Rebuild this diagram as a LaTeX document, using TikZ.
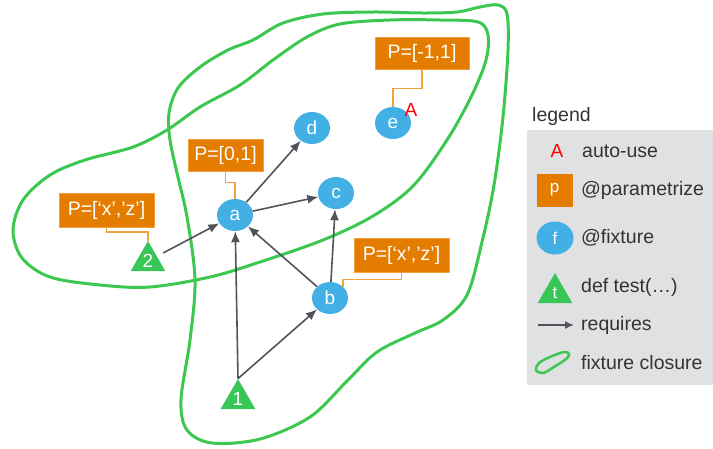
\documentclass[tikz,border=0pt]{standalone}
\usepackage{fontspec}
\setmainfont{Liberation Sans}
\usetikzlibrary{shapes.geometric,arrows.meta}
\definecolor{porange}{RGB}{228,124,0}
\definecolor{plight}{RGB}{240,160,60}
\definecolor{fblue}{RGB}{66,176,228}
\definecolor{tgreen}{RGB}{56,198,86}
\definecolor{cgreen}{RGB}{60,200,80}
\definecolor{agray}{RGB}{80,84,90}
\definecolor{lgray}{RGB}{224,225,227}
\tikzset{
  fix/.style={ellipse,fill=fblue,text=white,minimum width=36pt,minimum height=32pt,inner sep=0pt,font=\fontsize{19}{19}\selectfont},
  tst/.style={regular polygon,regular polygon sides=3,fill=tgreen,text=white,minimum size=40pt,inner sep=0pt,font=\fontsize{19}{19}\selectfont},
  par/.style={fill=porange,draw=plight,line width=0.8pt,text=white,minimum height=32pt,inner xsep=6pt,font=\fontsize{19.5}{19.5}\selectfont},
  pline/.style={draw=plight,line width=1.6pt},
  req/.style={draw=agray,line width=1.6pt,-{Latex[length=11pt,width=9pt]}},
  clos/.style={draw=cgreen,line width=3pt},
  ltext/.style={anchor=west,text=black!80,font=\fontsize{19.5}{20}\selectfont,inner sep=0pt},
  autou/.style={text=red,font=\fontsize{19}{19}\selectfont,inner sep=0pt},
}
\begin{document}
\begin{tikzpicture}[x=1pt,y=-1pt]
\useasboundingbox (0,0) rectangle (713,448);
% closures
\draw[clos] plot[smooth cycle,tension=0.55] coordinates {(13,230) (23,200) (50,175) (85,160) (133,147) (167,130) (200,107) (240,85) (273,60) (307,37) (340,24) (390,20) (440,20) (478,22) (488,35) (486,60) (472,95) (447,140) (413,186) (373,216) (323,240) (260,262) (210,277) (150,287) (100,285) (50,277) (22,258)};
\draw[clos] plot[smooth cycle,tension=0.55] coordinates {(253,40) (283,23) (323,14) (373,12) (423,13) (457,12) (480,7) (498,5) (507,14) (508,50) (503,117) (494,185) (482,242) (467,295) (443,320) (415,333) (377,352) (347,381) (310,417) (260,439) (212,443) (187,430) (181,400) (190,340) (195,280) (187,217) (177,173) (170,140) (169,113) (178,88) (200,67) (228,50)};
% fixtures
\node[fix] (a) at (235,215) {a};
\node[fix] (d) at (312,128) {d};
\node[fix] (c) at (336,193) {c};
\node[fix] (e) at (393,123) {e};
\node[fix] (b) at (330,298) {b};
\node[tst] (t1) at (238,399) {1};
\node[tst] (t2) at (148,261) {2};
% parametrize
\node[par,minimum width=75pt] (p0) at (225.5,155) {P=[0,1]};
\node[par,minimum width=94pt] (pe) at (422,53) {P=[-1,1]};
\node[par,minimum width=95pt,minimum height=34pt] (p2) at (106.5,210.5) {P=[‘x’,’z’]};
\node[par,minimum width=95pt,minimum height=34pt] (pb) at (401.5,255) {P=[‘x’,’z’]};
\draw[pline] (p0.south) -- ++(0,11) -| (a.north);
\draw[pline] (pe.south) -- ++(0,19) -| (e.north);
\draw[pline] (p2.south) -- ++(0,4) -| (t2.corner 1);
\draw[pline] (pb.south) -- ++(0,7) -| (b.north east);
\node[autou] (A) at (411,110) {A};
% requires
\draw[req] (t1.corner 1) -- (a);
\draw[req] (t1.corner 1) -- (b);
\draw[req] (b) -- (a);
\draw[req] (b) -- (c);
\draw[req] (a) -- (c);
\draw[req] (a) -- (d);
\draw[req,shorten <=7pt] (t2) -- (a);
% legend
\node[ltext] (lg) at (532,116) {legend};
\fill[lgray] (527,130) rectangle (713,385);
\node[autou] (lA) at (557,151) {A};
\node[ltext] (l1) at (582,151) {auto-use};
\node[fill=porange,text=white,minimum width=36pt,minimum height=33pt,inner sep=0pt,font=\fontsize{17}{17}\selectfont] (lp) at (554.5,190) {p};
\node[ltext] (l2) at (581,190) {@parametrize};
\node[fix,minimum width=37pt,minimum height=33pt,font=\fontsize{17}{17}\selectfont] (lf) at (555,238) {f};
\node[ltext] (l3) at (581,238) {@fixture};
\node[tst,font=\fontsize{17}{17}\selectfont] (lt) at (555,293) {t};
\node[ltext] (l4) at (581,287) {def test(…)};
\coordinate (r0) at (538,325);
\coordinate (r1) at (574,325);
\draw[draw=agray,line width=1.6pt,-{Latex[length=9pt,width=8pt]}] (r0) -- (r1);
\node[ltext] (l5) at (581,325) {requires};
\draw[draw=cgreen,line width=2.5pt] plot[smooth cycle,tension=0.6] coordinates {(536,370) (539,363) (550,357) (564,352) (569,354) (566,359) (554,367) (543,373)};
\node[ltext] (l6) at (581,363) {fixture closure};
\end{tikzpicture}
\end{document}
